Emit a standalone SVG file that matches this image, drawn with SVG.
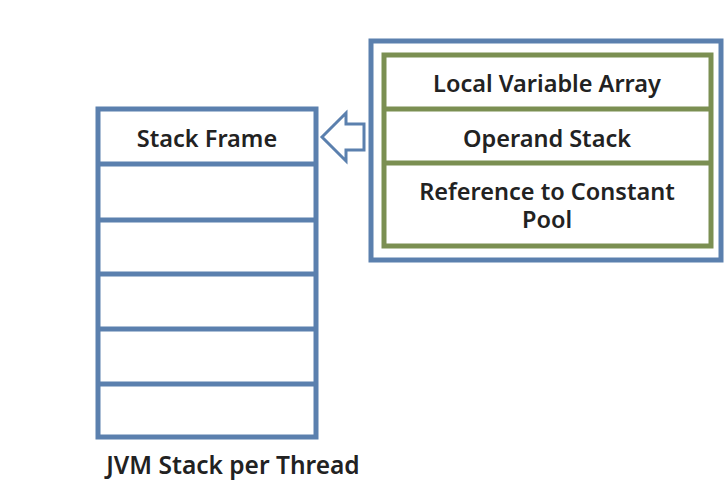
<svg xmlns="http://www.w3.org/2000/svg" width="727" height="481" viewBox="0 0 727 481">
  <style>
    .blue { fill: none; stroke: #5b80ae; stroke-width: 5; }
    .green { fill: none; stroke: #7b8f52; stroke-width: 5; }
    .sepb { stroke: #5b80ae; stroke-width: 5; }
    .sepg { stroke: #7b8f52; stroke-width: 5; }
    text { font-family: "Noto Sans", "DejaVu Sans", sans-serif; font-size: 23.5px; font-weight: 600; fill: #222; text-anchor: middle; }
  </style>
  <rect width="727" height="481" fill="#ffffff"/>

  <!-- JVM stack: a column of frames -->
  <g id="jvm-stack">
    <rect class="blue" x="98" y="109" width="218" height="328"/>
    <line class="sepb" x1="98" y1="164" x2="316" y2="164"/>
    <line class="sepb" x1="98" y1="220" x2="316" y2="220"/>
    <line class="sepb" x1="98" y1="274" x2="316" y2="274"/>
    <line class="sepb" x1="98" y1="329" x2="316" y2="329"/>
    <line class="sepb" x1="98" y1="384" x2="316" y2="384"/>
    <text x="207" y="147">Stack Frame</text>
    <text x="233" y="474" style="font-size:24.5px">JVM Stack per Thread</text>
  </g>

  <!-- contents of one stack frame -->
  <g id="frame-detail">
    <rect class="blue" x="371" y="41" width="350" height="219" stroke-width="6"/>
    <rect class="green" x="384" y="55" width="327" height="191"/>
    <line class="sepg" x1="384" y1="109" x2="711" y2="109"/>
    <line class="sepg" x1="384" y1="163" x2="711" y2="163"/>
    <text x="547" y="92">Local Variable Array</text>
    <text x="547" y="147">Operand Stack</text>
    <text x="547" y="200">Reference to Constant<tspan x="547" dy="28">Pool</tspan></text>
  </g>

  <!-- connector: hollow arrow pointing at the stack frame -->
  <g id="connectors">
    <polygon points="322,137 346,113 346,124 364,124 364,150 346,150 346,161" fill="#ffffff" stroke="#5b80ae" stroke-width="3" stroke-linejoin="miter"/>
  </g>
</svg>
